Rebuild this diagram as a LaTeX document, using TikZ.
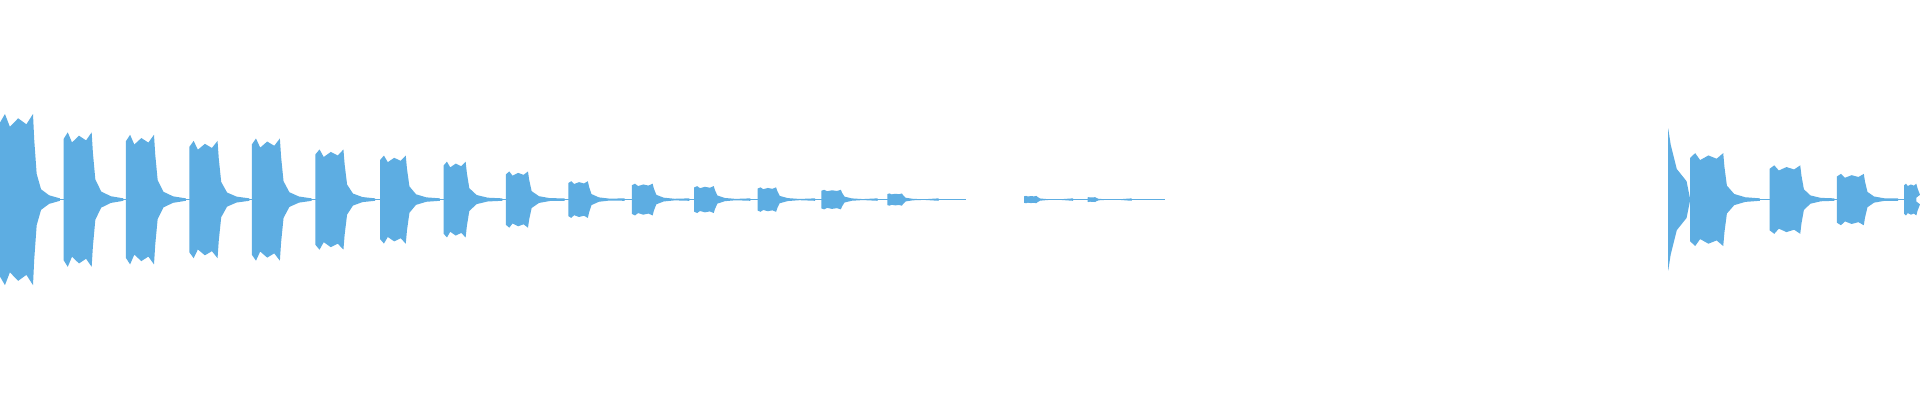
\documentclass[tikz,border=0pt]{standalone}
\definecolor{wave}{RGB}{93,173,226}
\tikzset{wavefill/.style={fill=wave,draw=none}}
% one burst: start, amplitude, plateau width, tail length
\newcommand{\burst}[4]{%
  \fill[wavefill] (#1,0) -- (#1,0.9*#2) -- (#1+0.15*#3,#2) -- (#1+0.3*#3,0.85*#2) -- (#1+0.55*#3,0.95*#2)
    -- (#1+0.8*#3,0.88*#2) -- (#1+#3,#2) -- (#1+#3+1,0.7*#2) -- (#1+#3+3,0.3*#2) -- (#1+#3+0.3*#4,0.12*#2)
    -- (#1+#3+0.6*#4,0.05*#2) -- (#1+#3+#4,1) -- (#1+#3+#4,-1) -- (#1+#3+0.6*#4,-0.05*#2)
    -- (#1+#3+0.3*#4,-0.12*#2) -- (#1+#3+3,-0.3*#2) -- (#1+#3+1,-0.7*#2) -- (#1+#3,-#2)
    -- (#1+0.8*#3,-0.88*#2) -- (#1+0.55*#3,-0.95*#2) -- (#1+0.3*#3,-0.85*#2) -- (#1+0.15*#3,-#2)
    -- (#1,-0.9*#2) -- cycle;}
\begin{document}
\begin{tikzpicture}[x=0.5pt,y=0.5pt]

  % background fixes the page size
  \fill[white] (0,-163.3) rectangle (1568,163.3);

  % centre line
  \foreach \a/\b in {0/790, 838/953, 1365/1568}
    \fill[wavefill] (\a,-0.6) rectangle (\b,0.6);

  % first group of bursts
  \foreach \x/\amp/\w/\t in {0/70/27/22, 52/55/23/26, 103/53/23/26, 155/48/23/26, 206/50/23/26,
      258/41/23/26, 311/36/21/28, 363/31/18/30, 414/23/18/30, 465/15/16/30, 517/13/17/30,
      568/11/16/30, 620/10/15/32, 672/8/16/30, 726/5/12/30, 838/3/10/30, 890/2/6/30} {
    \burst{\x}{\amp}{\w}{\t}
  }

  % second group
  \fill[wavefill] (1365,0) -- (1365,58) -- (1367,45) -- (1372,25) -- (1380,15) -- (1383,0)
    -- (1380,-15) -- (1372,-25) -- (1367,-45) -- (1365,-58) -- cycle;
  \foreach \x/\amp/\w/\t in {1383/38/27/30, 1448/28/25/28, 1503/21/22/28, 1558/13/10/0} {
    \burst{\x}{\amp}{\w}{\t}
  }

\end{tikzpicture}
\end{document}
